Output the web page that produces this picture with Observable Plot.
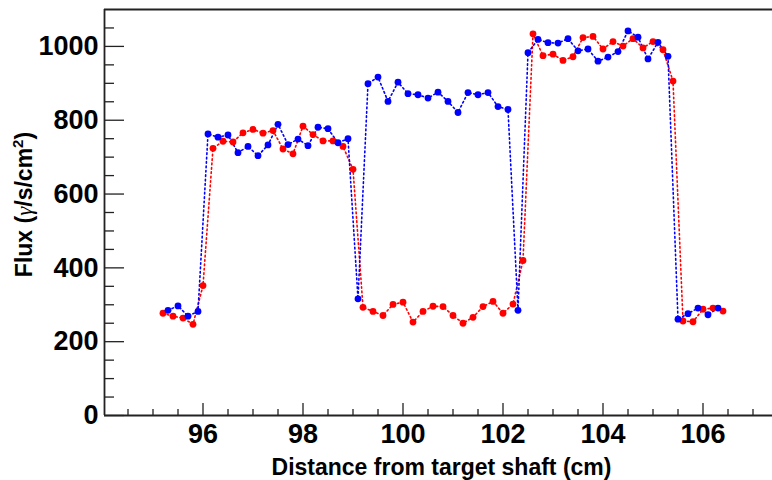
<!DOCTYPE html>
<html><head><meta charset="utf-8">
<script src="https://cdn.jsdelivr.net/npm/d3@7"></script>
<script src="https://cdn.jsdelivr.net/npm/@observablehq/plot@0.6"></script>
<style>
html,body{margin:0;padding:0;background:#fff;}
</style>
</head><body><div id="chart"></div>
<script>
const redX = [95.2,95.4,95.6,95.8,96.0,96.2,96.4,96.6,96.8,97.0,97.2,97.4,97.6,97.8,98.0,98.2,98.4,98.6,98.8,99.0,
  99.2,99.4,99.6,99.8,100.0,100.2,100.4,100.6,100.8,101.0,101.2,101.4,101.6,101.8,102.0,102.2,102.4,
  102.6,102.8,103.0,103.2,103.4,103.6,103.8,104.0,104.2,104.4,104.6,104.8,105.0,105.2,105.4,
  105.6,105.8,106.0,106.2,106.4];
const redFlux = [277,269,264,247,352,724,743,741,766,775,765,772,722,709,784,761,744,744,729,667,
  293,282,271,301,307,253,282,296,295,271,250,266,295,309,277,302,420,
  1034,975,979,962,972,1024,1027,993,1013,1001,1021,996,1013,991,906,
  256,254,288,291,283];
const blueX = [95.3,95.5,95.7,95.9,96.1,96.3,96.5,96.7,96.9,97.1,97.3,97.5,97.7,97.9,98.1,98.3,98.5,98.7,98.9,
  99.1,99.3,99.5,99.7,99.9,100.1,100.3,100.5,100.7,100.9,101.1,101.3,101.5,101.7,101.9,102.1,102.3,
  102.5,102.7,102.9,103.1,103.3,103.5,103.7,103.9,104.1,104.3,104.5,104.7,104.9,105.1,105.3,
  105.5,105.7,105.9,106.1,106.3];
const blueFlux = [285,297,269,282,763,754,760,712,729,704,733,789,734,749,731,781,777,739,750,
  316,899,917,851,903,872,869,860,876,851,821,875,869,875,837,829,285,
  983,1019,1010,1009,1021,988,993,960,971,986,1042,1025,966,1011,973,
  261,276,291,273,291];
const xMajorTicks = [96,98,100,102,104,106];
const xMinorTicks = [94.5,95,95.5,96.5,97,97.5,98.5,99,99.5,100.5,101,101.5,102.5,103,103.5,104.5,105,105.5,106.5,107];
const yMajorTicks = [0,200,400,600,800,1000];
const yMinorTicks = [50,100,150,250,300,350,450,500,550,650,700,750,850,900,950,1050];
const xDomain = [94.03, 107.39];
const yDomain = [0, 1100];
const xTitle = "Distance from target shaft (cm)";
const yTitle = "Flux (γ/s/cm²)";

const red = redX.map((x, i) => ({x, flux: redFlux[i]}));
const blue = blueX.map((x, i) => ({x, flux: blueFlux[i]}));

const W = 772, H = 480, mT = 9, mR = 0, mB = 65, mL = 104;
const plotW = W - mL - mR, plotH = H - mT - mB;

const chart = Plot.plot({
  width: W, height: H,
  marginTop: mT, marginRight: mR, marginBottom: mB, marginLeft: mL,
  style: {fontFamily: "'Liberation Sans', Arial, sans-serif", fontWeight: "bold", color: "#000", background: "#fff"},
  x: {domain: xDomain},
  y: {domain: yDomain},
  marks: [
    Plot.line(red, {x: "x", y: "flux", stroke: "#ff0000", strokeWidth: 1.6, strokeDasharray: "1.6 2.8"}),
    Plot.line(blue, {x: "x", y: "flux", stroke: "#0000ff", strokeWidth: 1.6, strokeDasharray: "1.6 2.8"}),
    Plot.dot(red, {x: "x", y: "flux", r: 3.4, fill: "#ff0000", stroke: null}),
    Plot.dot(blue, {x: "x", y: "flux", r: 3.4, fill: "#0000ff", stroke: null}),
    Plot.ruleX(xMinorTicks, {x: d => d, insetTop: plotH - 6, stroke: "#222", strokeWidth: 1.3}),
    Plot.ruleX(xMajorTicks, {x: d => d, insetTop: plotH - 12, stroke: "#222", strokeWidth: 1.3}),
    Plot.ruleY(yMinorTicks, {y: d => d, insetRight: plotW - 10, stroke: "#222", strokeWidth: 1.3}),
    Plot.ruleY(yMajorTicks, {y: d => d, insetRight: plotW - 20, stroke: "#222", strokeWidth: 1.3}),
    Plot.axisX({ticks: xMajorTicks, tickSize: 0, tickPadding: 8, fontSize: 27, label: null, tickFormat: d => String(d)}),
    Plot.axisY({ticks: yMajorTicks, tickSize: 0, tickPadding: 6, fontSize: 27, label: null, tickFormat: d => String(d)}),
    Plot.ruleX([xDomain[0]], {stroke: "#222", strokeWidth: 1.8}),
    Plot.ruleY([yDomain[0]], {stroke: "#222", strokeWidth: 1.8}),
    Plot.ruleY([yDomain[1]], {stroke: "#222", strokeWidth: 1.8}),
    Plot.text([xTitle], {text: d => d, frameAnchor: "bottom", lineAnchor: "bottom", dy: 59, dx: 3, fontSize: 23, fontWeight: "bold", fill: "#000"}),
    Plot.text([yTitle], {text: d => d, frameAnchor: "left", rotate: -90, dx: -80, dy: -8, fontSize: 23, fontWeight: "bold", fill: "#000", textAnchor: "middle"})
  ]
});
document.getElementById("chart").appendChild(chart);

// style the y title: italic gamma, superscript 2
d3.select(chart).selectAll("text").filter(function() { return this.textContent === yTitle; }).each(function() {
  const t = d3.select(this);
  t.text(null);
  t.append("tspan").text("Flux (");
  t.append("tspan").attr("font-family", "'Liberation Serif', serif").attr("font-style", "italic").attr("font-weight", "normal").text("γ");
  t.append("tspan").text("/s/cm");
  t.append("tspan").attr("font-size", "15").attr("dy", "-9").text("2");
  t.append("tspan").attr("dy", "9").text(")");
});
</script>
</body></html>
